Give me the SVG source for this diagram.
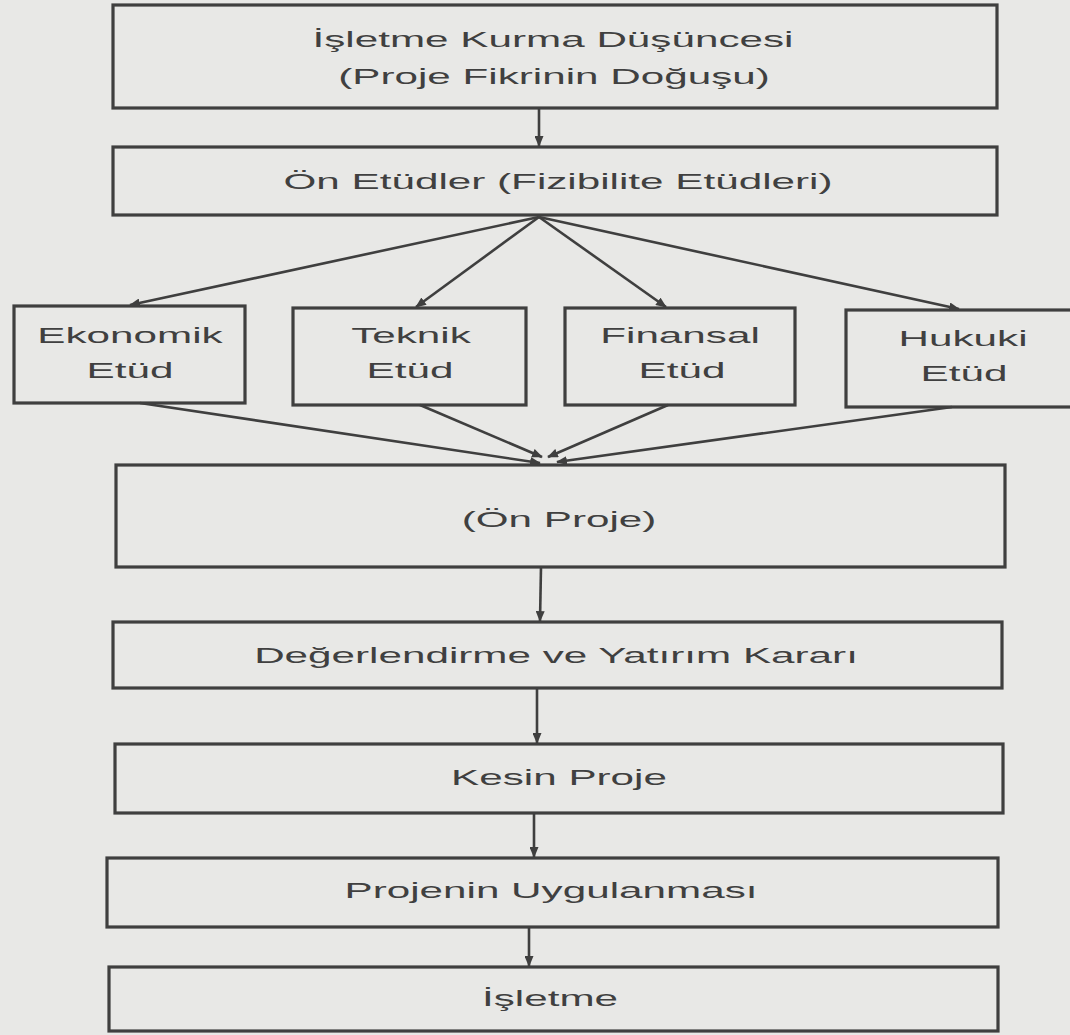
<svg xmlns="http://www.w3.org/2000/svg" width="1070" height="1035" viewBox="0 0 1070 1035">
<style>
.bg{fill:#e8e8e6}
.box{fill:none;stroke:#3f3f3f;stroke-width:3.2}
.t{font-family:"Liberation Sans",Arial,sans-serif;font-size:22px;fill:#404040;text-anchor:middle}
.c{stroke:#3f3f3f;stroke-width:2.6;fill:none}
</style>
<defs>
<marker id="ah" viewBox="0 0 12 10" refX="11" refY="5" markerWidth="11" markerHeight="9" markerUnits="userSpaceOnUse" orient="auto">
<path d="M0,0 L12,5 L0,10 Z" fill="#3f3f3f"/>
</marker>
</defs>
<rect class="bg" x="0" y="0" width="1070" height="1035"/>
<g id="connectors">
<line class="c" x1="539" y1="108" x2="539" y2="146" marker-end="url(#ah)"/>
<line class="c" x1="539" y1="217" x2="130" y2="305" marker-end="url(#ah)"/>
<line class="c" x1="539" y1="217" x2="416" y2="307" marker-end="url(#ah)"/>
<line class="c" x1="539" y1="217" x2="666" y2="307" marker-end="url(#ah)"/>
<line class="c" x1="539" y1="217" x2="959" y2="309" marker-end="url(#ah)"/>
<line class="c" x1="140" y1="403" x2="540" y2="463" marker-end="url(#ah)"/>
<line class="c" x1="420" y1="405" x2="542" y2="457" marker-end="url(#ah)"/>
<line class="c" x1="668" y1="405" x2="548" y2="457" marker-end="url(#ah)"/>
<line class="c" x1="952" y1="407" x2="557" y2="462" marker-end="url(#ah)"/>
<line class="c" x1="541" y1="567" x2="540" y2="621" marker-end="url(#ah)"/>
<line class="c" x1="537" y1="688" x2="537" y2="743" marker-end="url(#ah)"/>
<line class="c" x1="534" y1="813" x2="534" y2="857" marker-end="url(#ah)"/>
<line class="c" x1="529" y1="927" x2="529" y2="966" marker-end="url(#ah)"/>
</g>
<g id="n1">
<rect class="box" x="113" y="5" width="884" height="103"/>
<text class="t" transform="translate(553,47) scale(1.92,1)">İşletme Kurma Düşüncesi</text>
<text class="t" transform="translate(554,84) scale(1.92,1)">(Proje Fikrinin Doğuşu)</text>
</g>
<g id="n2">
<rect class="box" x="113" y="147" width="884" height="68"/>
<text class="t" transform="translate(558,189) scale(1.92,1)">Ön Etüdler (Fizibilite Etüdleri)</text>
</g>
<g id="n3">
<rect class="box" x="14" y="306" width="231" height="97"/>
<text class="t" transform="translate(130,343) scale(1.92,1)">Ekonomik</text>
<text class="t" transform="translate(130,378) scale(1.92,1)">Etüd</text>
</g>
<g id="n4">
<rect class="box" x="293" y="308" width="233" height="97"/>
<text class="t" transform="translate(411,343) scale(1.92,1)">Teknik</text>
<text class="t" transform="translate(410,378) scale(1.92,1)">Etüd</text>
</g>
<g id="n5">
<rect class="box" x="565" y="308" width="230" height="97"/>
<text class="t" transform="translate(680,343) scale(1.92,1)">Finansal</text>
<text class="t" transform="translate(682,378) scale(1.92,1)">Etüd</text>
</g>
<g id="n6">
<rect class="box" x="846" y="310" width="240" height="97"/>
<text class="t" transform="translate(963,346) scale(1.92,1)">Hukuki</text>
<text class="t" transform="translate(964,381) scale(1.92,1)">Etüd</text>
</g>
<g id="n7">
<rect class="box" x="116" y="465" width="889" height="102"/>
<text class="t" transform="translate(559,527) scale(1.92,1)">(Ön Proje)</text>
</g>
<g id="n8">
<rect class="box" x="113" y="622" width="889" height="66"/>
<text class="t" transform="translate(556,663) scale(1.92,1)">Değerlendirme ve Yatırım Kararı</text>
</g>
<g id="n9">
<rect class="box" x="115" y="744" width="888" height="69"/>
<text class="t" transform="translate(559,785) scale(1.92,1)">Kesin Proje</text>
</g>
<g id="n10">
<rect class="box" x="107" y="858" width="891" height="69"/>
<text class="t" transform="translate(551,898) scale(1.92,1)">Projenin Uygulanması</text>
</g>
<g id="n11">
<rect class="box" x="109" y="967" width="889" height="64"/>
<text class="t" transform="translate(550,1006) scale(1.92,1)">İşletme</text>
</g>
</svg>
